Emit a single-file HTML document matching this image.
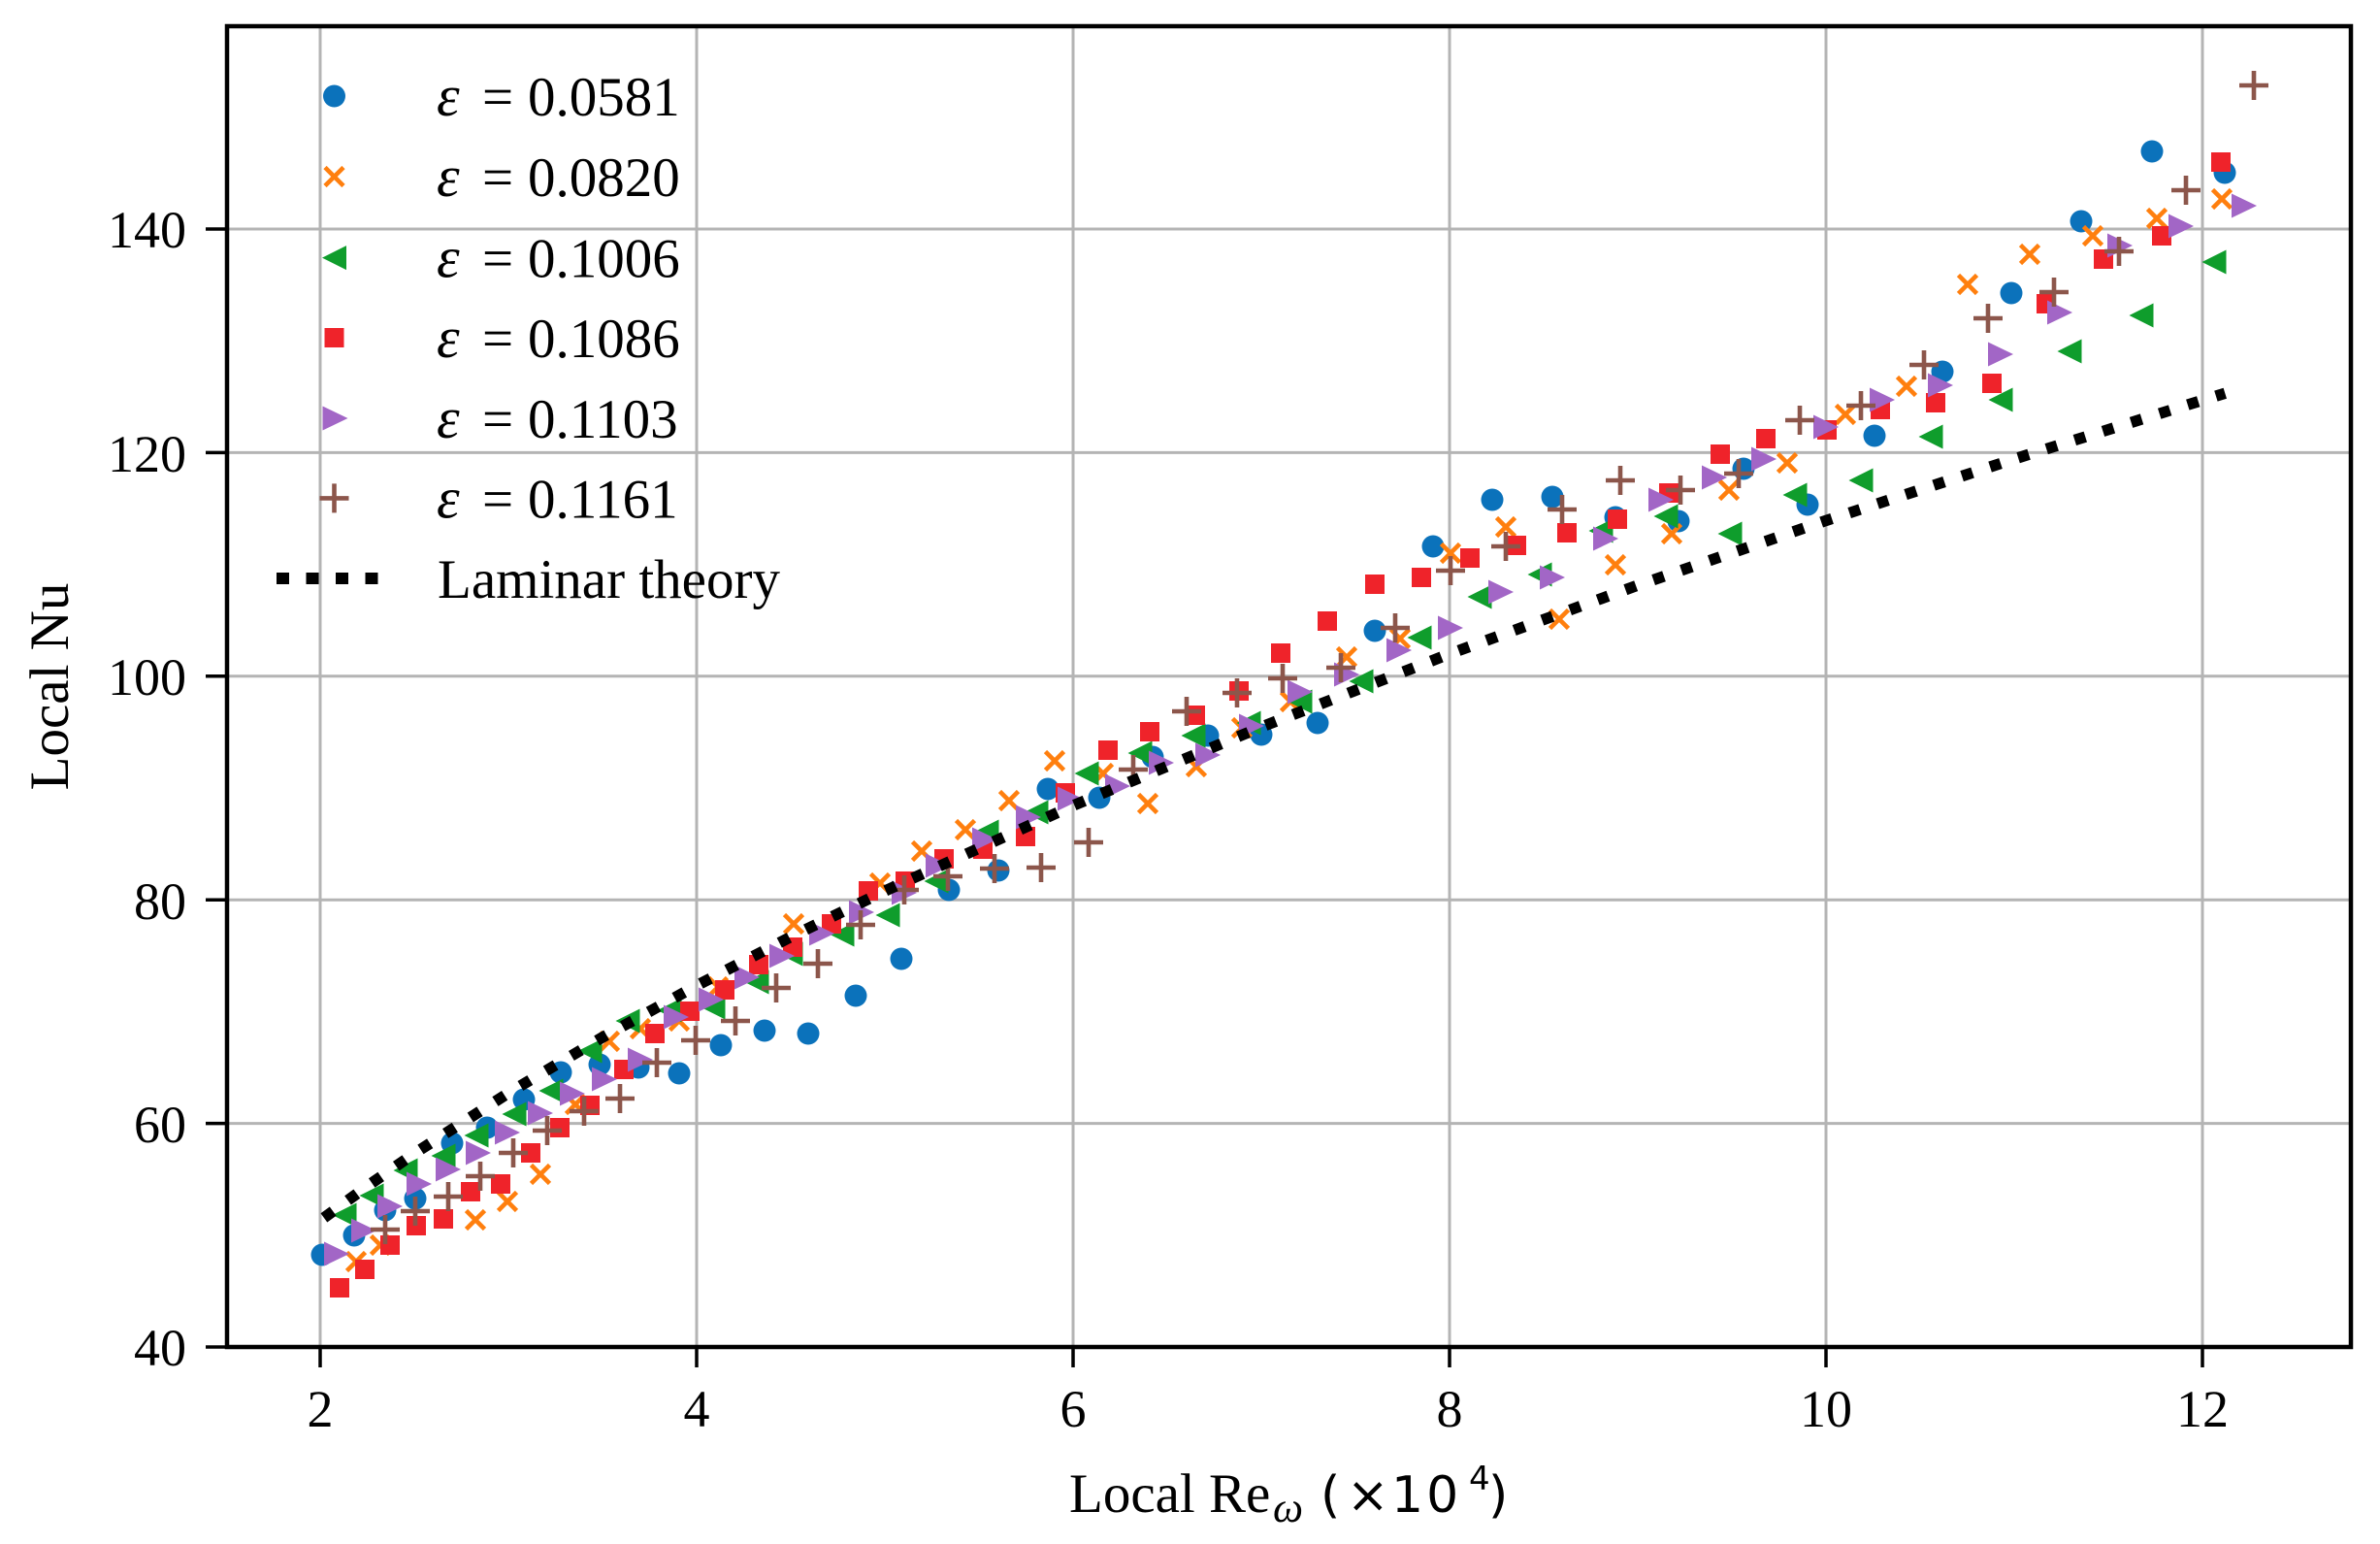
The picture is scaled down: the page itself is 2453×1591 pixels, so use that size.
<!DOCTYPE html>
<html>
<head>
<meta charset="utf-8">
<style>
html,body{margin:0;padding:0;background:#fff;}
svg{display:block;}
.t{font-family:"Liberation Serif","DejaVu Serif",serif;fill:#000;}
.s{font-family:"DejaVu Sans","Liberation Sans",sans-serif;fill:#000;}
</style>
</head>
<body>
<svg xmlns="http://www.w3.org/2000/svg" width="2453" height="1591" viewBox="0 0 2453 1591">
<defs>
<circle id="mc" cx="0" cy="0" r="11.5"/>
<rect id="ms" x="-10" y="-10" width="20" height="20"/>
<path id="ml" d="M-12.5 0L12.5-12.5L12.5 12.5Z"/>
<path id="mr" d="M13 0L-13-12.5L-13 12.5Z"/>
<path id="mp" d="M-15 0H15M0-15V15" fill="none" stroke-width="4.6"/>
<path id="mx" d="M-9.5-9.5L9.5 9.5M-9.5 9.5L9.5-9.5" fill="none" stroke-width="4.6"/>
</defs>
<rect x="0" y="0" width="2453" height="1591" fill="#fff"/>

<!-- grid -->
<g stroke="#b4b4b4" stroke-width="3">
<line x1="330" y1="27" x2="330" y2="1388"/>
<line x1="718" y1="27" x2="718" y2="1388"/>
<line x1="1106" y1="27" x2="1106" y2="1388"/>
<line x1="1494" y1="27" x2="1494" y2="1388"/>
<line x1="1882" y1="27" x2="1882" y2="1388"/>
<line x1="2270" y1="27" x2="2270" y2="1388"/>
<line x1="234" y1="1157.6" x2="2423" y2="1157.6"/>
<line x1="234" y1="927.2" x2="2423" y2="927.2"/>
<line x1="234" y1="696.8" x2="2423" y2="696.8"/>
<line x1="234" y1="466.4" x2="2423" y2="466.4"/>
<line x1="234" y1="236" x2="2423" y2="236"/>
</g>

<!-- blue circles -->
<g fill="#0b72bb">
<use href="#mc" x="332" y="1293"/><use href="#mc" x="365" y="1273"/><use href="#mc" x="397" y="1247"/><use href="#mc" x="428" y="1235"/><use href="#mc" x="466" y="1178"/><use href="#mc" x="502" y="1162"/><use href="#mc" x="540" y="1133"/><use href="#mc" x="578" y="1105"/><use href="#mc" x="618" y="1097"/><use href="#mc" x="658" y="1100"/><use href="#mc" x="700" y="1106"/><use href="#mc" x="743" y="1077"/><use href="#mc" x="788" y="1062"/><use href="#mc" x="833" y="1065"/><use href="#mc" x="882" y="1026"/><use href="#mc" x="929" y="988"/><use href="#mc" x="978" y="917"/><use href="#mc" x="1029" y="897"/><use href="#mc" x="1080" y="813"/><use href="#mc" x="1133" y="822"/><use href="#mc" x="1188" y="780"/><use href="#mc" x="1245" y="758"/><use href="#mc" x="1300" y="757"/><use href="#mc" x="1358" y="745"/><use href="#mc" x="1417" y="650"/><use href="#mc" x="1477" y="563"/><use href="#mc" x="1538" y="515"/><use href="#mc" x="1600" y="512"/><use href="#mc" x="1665" y="533"/><use href="#mc" x="1730" y="537"/><use href="#mc" x="1797" y="483"/><use href="#mc" x="1863" y="520"/><use href="#mc" x="1932" y="449"/><use href="#mc" x="2002" y="383"/><use href="#mc" x="2073" y="302"/><use href="#mc" x="2145" y="228"/><use href="#mc" x="2218" y="156"/><use href="#mc" x="2293" y="178"/>
</g>

<!-- orange x -->
<g stroke="#ff7f0e">
<use href="#mx" x="367" y="1300"/><use href="#mx" x="392" y="1283"/><use href="#mx" x="490" y="1257"/><use href="#mx" x="523" y="1238"/><use href="#mx" x="557" y="1210"/><use href="#mx" x="593" y="1138"/><use href="#mx" x="628" y="1073"/><use href="#mx" x="660" y="1060"/><use href="#mx" x="700" y="1052"/><use href="#mx" x="740" y="1017"/><use href="#mx" x="818" y="952"/><use href="#mx" x="907" y="910"/><use href="#mx" x="950" y="877"/><use href="#mx" x="995" y="855"/><use href="#mx" x="1040" y="825"/><use href="#mx" x="1087" y="784"/><use href="#mx" x="1137" y="797"/><use href="#mx" x="1183" y="828"/><use href="#mx" x="1233" y="790"/><use href="#mx" x="1280" y="750"/><use href="#mx" x="1330" y="723"/><use href="#mx" x="1388" y="677"/><use href="#mx" x="1443" y="658"/><use href="#mx" x="1495" y="570"/><use href="#mx" x="1552" y="543"/><use href="#mx" x="1607" y="638"/><use href="#mx" x="1665" y="582"/><use href="#mx" x="1723" y="550"/><use href="#mx" x="1782" y="505"/><use href="#mx" x="1842" y="477"/><use href="#mx" x="1902" y="427"/><use href="#mx" x="1965" y="398"/><use href="#mx" x="2028" y="293"/><use href="#mx" x="2092" y="262"/><use href="#mx" x="2157" y="243"/><use href="#mx" x="2223" y="225"/><use href="#mx" x="2290" y="205"/>
</g>

<!-- green left triangles -->
<g fill="#0f9d2c">
<use href="#ml" x="355" y="1252"/><use href="#ml" x="383" y="1232"/><use href="#ml" x="418" y="1206"/><use href="#ml" x="457" y="1191"/><use href="#ml" x="491" y="1170"/><use href="#ml" x="530" y="1148"/><use href="#ml" x="568" y="1124"/><use href="#ml" x="608" y="1083"/><use href="#ml" x="647" y="1052"/><use href="#ml" x="690" y="1041"/><use href="#ml" x="735" y="1038"/><use href="#ml" x="780" y="1012"/><use href="#ml" x="815" y="983"/><use href="#ml" x="868" y="963"/><use href="#ml" x="915" y="943"/><use href="#ml" x="965" y="908"/><use href="#ml" x="1017" y="857"/><use href="#ml" x="1068" y="837"/><use href="#ml" x="1120" y="797"/><use href="#ml" x="1175" y="776"/><use href="#ml" x="1230" y="758"/><use href="#ml" x="1287" y="745"/><use href="#ml" x="1340" y="723"/><use href="#ml" x="1403" y="702"/><use href="#ml" x="1463" y="657"/><use href="#ml" x="1525" y="615"/><use href="#ml" x="1587" y="592"/><use href="#ml" x="1650" y="547"/><use href="#ml" x="1717" y="532"/><use href="#ml" x="1783" y="550"/><use href="#ml" x="1850" y="510"/><use href="#ml" x="1918" y="495"/><use href="#ml" x="1990" y="450"/><use href="#ml" x="2062" y="412"/><use href="#ml" x="2133" y="362"/><use href="#ml" x="2207" y="325"/><use href="#ml" x="2282" y="270"/>
</g>

<!-- red squares -->
<g fill="#ef232a">
<use href="#ms" x="350" y="1327"/><use href="#ms" x="376" y="1308"/><use href="#ms" x="402" y="1283"/><use href="#ms" x="429" y="1263"/><use href="#ms" x="457" y="1256"/><use href="#ms" x="485" y="1228"/><use href="#ms" x="516" y="1220"/><use href="#ms" x="547" y="1188"/><use href="#ms" x="577" y="1162"/><use href="#ms" x="608" y="1139"/><use href="#ms" x="643" y="1102"/><use href="#ms" x="675" y="1065"/><use href="#ms" x="711" y="1042"/><use href="#ms" x="747" y="1020"/><use href="#ms" x="782" y="994"/><use href="#ms" x="817" y="976"/><use href="#ms" x="857" y="952"/><use href="#ms" x="895" y="918"/><use href="#ms" x="933" y="908"/><use href="#ms" x="973" y="885"/><use href="#ms" x="1013" y="875"/><use href="#ms" x="1057" y="862"/><use href="#ms" x="1098" y="817"/><use href="#ms" x="1142" y="773"/><use href="#ms" x="1185" y="754"/><use href="#ms" x="1232" y="737"/><use href="#ms" x="1277" y="712"/><use href="#ms" x="1320" y="673"/><use href="#ms" x="1368" y="640"/><use href="#ms" x="1417" y="602"/><use href="#ms" x="1465" y="595"/><use href="#ms" x="1515" y="575"/><use href="#ms" x="1563" y="562"/><use href="#ms" x="1615" y="549"/><use href="#ms" x="1667" y="535"/><use href="#ms" x="1720" y="508"/><use href="#ms" x="1773" y="468"/><use href="#ms" x="1820" y="452"/><use href="#ms" x="1883" y="443"/><use href="#ms" x="1938" y="422"/><use href="#ms" x="1995" y="415"/><use href="#ms" x="2053" y="395"/><use href="#ms" x="2109" y="313"/><use href="#ms" x="2168" y="267"/><use href="#ms" x="2228" y="243"/><use href="#ms" x="2289" y="167"/>
</g>

<!-- purple right triangles -->
<g fill="#a266c6">
<use href="#mr" x="347" y="1292"/><use href="#mr" x="375" y="1268"/><use href="#mr" x="402" y="1243"/><use href="#mr" x="432" y="1220"/><use href="#mr" x="462" y="1205"/><use href="#mr" x="493" y="1188"/><use href="#mr" x="523" y="1167"/><use href="#mr" x="557" y="1147"/><use href="#mr" x="590" y="1127"/><use href="#mr" x="623" y="1112"/><use href="#mr" x="660" y="1092"/><use href="#mr" x="697" y="1048"/><use href="#mr" x="733" y="1030"/><use href="#mr" x="770" y="1007"/><use href="#mr" x="806" y="985"/><use href="#mr" x="847" y="962"/><use href="#mr" x="888" y="940"/><use href="#mr" x="932" y="920"/><use href="#mr" x="967" y="892"/><use href="#mr" x="1015" y="865"/><use href="#mr" x="1060" y="842"/><use href="#mr" x="1103" y="823"/><use href="#mr" x="1152" y="810"/><use href="#mr" x="1197" y="786"/><use href="#mr" x="1245" y="778"/><use href="#mr" x="1290" y="748"/><use href="#mr" x="1340" y="713"/><use href="#mr" x="1388" y="695"/><use href="#mr" x="1442" y="670"/><use href="#mr" x="1495" y="647"/><use href="#mr" x="1547" y="610"/><use href="#mr" x="1600" y="595"/><use href="#mr" x="1655" y="555"/><use href="#mr" x="1712" y="515"/><use href="#mr" x="1767" y="492"/><use href="#mr" x="1818" y="473"/><use href="#mr" x="1882" y="440"/><use href="#mr" x="1940" y="412"/><use href="#mr" x="2000" y="397"/><use href="#mr" x="2062" y="365"/><use href="#mr" x="2123" y="322"/><use href="#mr" x="2185" y="253"/><use href="#mr" x="2248" y="233"/><use href="#mr" x="2313" y="212"/>
</g>

<!-- brown plus -->
<g stroke="#8c564b">
<use href="#mp" x="397" y="1267"/><use href="#mp" x="428" y="1248"/><use href="#mp" x="462" y="1233"/><use href="#mp" x="495" y="1212"/><use href="#mp" x="529" y="1188"/><use href="#mp" x="564" y="1165"/><use href="#mp" x="602" y="1145"/><use href="#mp" x="639" y="1132"/><use href="#mp" x="677" y="1095"/><use href="#mp" x="717" y="1072"/><use href="#mp" x="758" y="1052"/><use href="#mp" x="800" y="1018"/><use href="#mp" x="843" y="993"/><use href="#mp" x="887" y="953"/><use href="#mp" x="932" y="917"/><use href="#mp" x="977" y="903"/><use href="#mp" x="1025" y="895"/><use href="#mp" x="1073" y="894"/><use href="#mp" x="1122" y="868"/><use href="#mp" x="1168" y="793"/><use href="#mp" x="1223" y="733"/><use href="#mp" x="1275" y="714"/><use href="#mp" x="1322" y="699"/><use href="#mp" x="1382" y="688"/><use href="#mp" x="1438" y="647"/><use href="#mp" x="1495" y="588"/><use href="#mp" x="1552" y="563"/><use href="#mp" x="1610" y="525"/><use href="#mp" x="1670" y="495"/><use href="#mp" x="1732" y="505"/><use href="#mp" x="1792" y="488"/><use href="#mp" x="1855" y="433"/><use href="#mp" x="1918" y="418"/><use href="#mp" x="1983" y="376"/><use href="#mp" x="2049" y="328"/><use href="#mp" x="2117" y="301"/><use href="#mp" x="2184" y="259"/><use href="#mp" x="2253" y="196"/><use href="#mp" x="2323" y="88"/>
</g>

<!-- laminar theory -->
<polyline fill="none" stroke="#000" stroke-width="11.5" stroke-dasharray="11.5 19" stroke-linecap="butt"
 points="333.9,1254.9 378.5,1222.3 427,1188.6 524,1126.3 621,1068.9 718,1015.6 815,965.4 912,918.1 1106,830.1 1300,749.1 1494,673.8 1688,603.1 1882,536.4 2076,473 2270,412.4 2293.3,405.2"/>

<!-- spines -->
<rect x="234" y="27" width="2189" height="1361" fill="none" stroke="#000" stroke-width="4.5"/>

<!-- ticks -->
<g stroke="#000" stroke-width="3.5">
<line x1="212" y1="1388" x2="234" y2="1388"/>
<line x1="212" y1="1157.6" x2="234" y2="1157.6"/>
<line x1="212" y1="927.2" x2="234" y2="927.2"/>
<line x1="212" y1="696.8" x2="234" y2="696.8"/>
<line x1="212" y1="466.4" x2="234" y2="466.4"/>
<line x1="212" y1="236" x2="234" y2="236"/>
<line x1="330" y1="1388" x2="330" y2="1409"/>
<line x1="718" y1="1388" x2="718" y2="1409"/>
<line x1="1106" y1="1388" x2="1106" y2="1409"/>
<line x1="1494" y1="1388" x2="1494" y2="1409"/>
<line x1="1882" y1="1388" x2="1882" y2="1409"/>
<line x1="2270" y1="1388" x2="2270" y2="1409"/>
</g>

<!-- tick labels -->
<g class="t" font-size="54" text-anchor="end">
<text x="192" y="1407">40</text>
<text x="192" y="1177">60</text>
<text x="192" y="947">80</text>
<text x="192" y="716">100</text>
<text x="192" y="486">120</text>
<text x="192" y="255">140</text>
</g>
<g class="t" font-size="54" text-anchor="middle">
<text x="330" y="1470">2</text>
<text x="718" y="1470">4</text>
<text x="1106" y="1470">6</text>
<text x="1494" y="1470">8</text>
<text x="1882" y="1470">10</text>
<text x="2270" y="1470">12</text>
</g>

<!-- axis labels -->
<text class="t" font-size="57" transform="translate(70,707.5) rotate(-90)" text-anchor="middle">Local Nu</text>
<text class="t" font-size="57" x="1102" y="1558">Local Re</text>
<text class="t" font-size="44" font-style="italic" x="1312" y="1568">ω</text>
<text class="s" font-size="52" x="1361" y="1558">(</text>
<text class="s" font-size="52" x="1388" y="1558">×</text>
<text class="s" font-size="52" x="1434" y="1558" letter-spacing="3">10</text>
<text class="s" font-size="34" x="1514" y="1535">4</text>
<text class="s" font-size="52" x="1534" y="1558">)</text>

<!-- legend -->
<use href="#mc" x="344.5" y="99" fill="#0b72bb"/>
<use href="#mx" x="344.5" y="182" stroke="#ff7f0e"/>
<use href="#ml" x="344.5" y="265.6" fill="#0f9d2c"/>
<use href="#ms" x="344.5" y="348" fill="#ef232a"/>
<use href="#mr" x="345.5" y="431" fill="#a266c6"/>
<use href="#mp" x="344.5" y="513.4" stroke="#8c564b"/>
<line x1="285" y1="596" x2="393" y2="596" stroke="#000" stroke-width="12" stroke-dasharray="13 17.5"/>

<g class="t" font-size="57">
<text x="450" y="119" font-style="italic" font-size="60">ε</text><text x="497" y="119">=</text><text x="544" y="119">0.0581</text>
<text x="450" y="202" font-style="italic" font-size="60">ε</text><text x="497" y="202">=</text><text x="544" y="202">0.0820</text>
<text x="450" y="285.6" font-style="italic" font-size="60">ε</text><text x="497" y="285.6">=</text><text x="544" y="285.6">0.1006</text>
<text x="450" y="368" font-style="italic" font-size="60">ε</text><text x="497" y="368">=</text><text x="544" y="368">0.1086</text>
<text x="450" y="451" font-style="italic" font-size="60">ε</text><text x="497" y="451">=</text><text x="544" y="451">0.1103</text>
<text x="450" y="533.4" font-style="italic" font-size="60">ε</text><text x="497" y="533.4">=</text><text x="544" y="533.4">0.1161</text>
<text x="451" y="616">Laminar theory</text>
</g>
</svg>
</body>
</html>
